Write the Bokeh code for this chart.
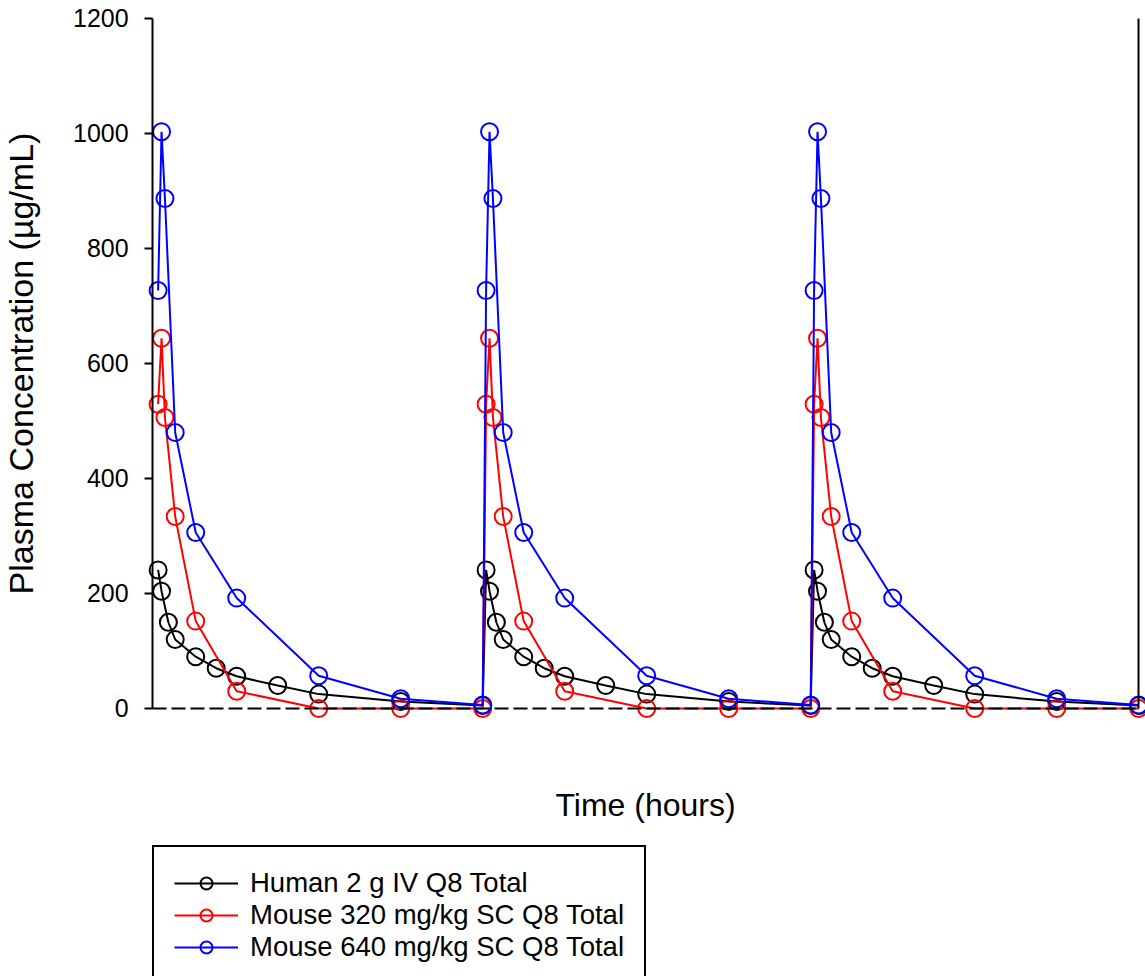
from bokeh.plotting import figure
from bokeh.models import Range1d, LinearAxis, FixedTicker, Legend, LegendItem
from bokeh.embed import file_html
from bokeh.resources import INLINE

# ---- data ----
human_t = [0.083, 0.167, 0.333, 0.5, 1, 1.5, 2, 3, 4, 6, 8,
           8.083, 8.167, 8.333, 8.5, 9, 9.5, 10, 11, 12, 14, 16,
           16.083, 16.167, 16.333, 16.5, 17, 17.5, 18, 19, 20, 22, 24]
human_c = [241, 204, 150, 120, 90, 70, 56, 40, 25, 12, 5,
           241, 204, 150, 120, 90, 70, 56, 40, 25, 12, 5,
           241, 204, 150, 120, 90, 70, 56, 40, 25, 12, 5]

mouse_t = [0.083, 0.167, 0.25, 0.5, 1, 2, 4, 6, 8,
           8.083, 8.167, 8.25, 8.5, 9, 10, 12, 14, 16,
           16.083, 16.167, 16.25, 16.5, 17, 18, 20, 22, 24]
mouse320_c = [529, 644, 506, 334, 152, 30, 0, 0, 0,
              529, 644, 506, 334, 152, 30, 0, 0, 0,
              529, 644, 506, 334, 152, 30, 0, 0, 0]
mouse640_c = [727, 1003, 887, 480, 306, 192, 57, 17, 6,
              727, 1003, 887, 480, 306, 192, 57, 17, 6,
              727, 1003, 887, 480, 306, 192, 57, 17, 6]

y_ticks = [0, 200, 400, 600, 800, 1000, 1200]
labels = ["Human 2 g IV Q8 Total", "Mouse 320 mg/kg SC Q8 Total", "Mouse 640 mg/kg SC Q8 Total"]
colors = ["black", "#ff0000", "#0000ff"]

FONT = "Liberation Sans"

# the frame covers the whole canvas; axes are drawn at fixed data locations
p = figure(width=1145, height=976, output_backend="svg", toolbar_location=None,
           x_range=Range1d(-3.761, 24.166), y_range=Range1d(-466.1, 1231.3),
           x_axis_location=None, y_axis_location=None,
           min_border_left=0, min_border_right=0, min_border_top=0, min_border_bottom=0)
p.outline_line_color = None
p.grid.grid_line_color = None
p.background_fill_color = "white"
p.border_fill_color = "white"

yaxis = LinearAxis(ticker=FixedTicker(ticks=y_ticks), fixed_location=-0.05, bounds=(0, 1200),
                   axis_line_width=2, axis_line_color="black",
                   major_tick_out=8, major_tick_in=0, major_tick_line_width=2,
                   minor_tick_out=0, minor_tick_in=0,
                   major_label_standoff=16, major_label_text_font=FONT,
                   major_label_text_font_size="25px", major_label_text_color="black",
                   axis_label="Plasma Concentration (µg/mL)", axis_label_standoff=30,
                   axis_label_text_font=FONT, axis_label_text_font_size="34px",
                   axis_label_text_font_style="normal", axis_label_text_color="black")
p.add_layout(yaxis, "left")

xaxis = LinearAxis(ticker=FixedTicker(ticks=[]), fixed_location=0, bounds=(-0.05, 24),
                   axis_line_width=2, axis_line_color="black", axis_line_dash="14 5",
                   major_tick_out=0, major_tick_in=0, minor_tick_out=0, minor_tick_in=0,
                   major_label_standoff=0,
                   axis_label="Time (hours)", axis_label_standoff=78,
                   axis_label_text_font=FONT, axis_label_text_font_size="32px",
                   axis_label_text_font_style="normal", axis_label_text_color="black")
p.add_layout(xaxis, "below")

raxis = LinearAxis(ticker=FixedTicker(ticks=[]), fixed_location=24, bounds=(0, 1200),
                   axis_line_width=2, axis_line_color="black",
                   major_tick_out=0, major_tick_in=0, minor_tick_out=0, minor_tick_in=0,
                   major_label_text_font_size="0px")
p.add_layout(raxis, "right")

items = []
for t, c, lab, col in [(human_t, human_c, labels[0], colors[0]),
                       (mouse_t, mouse320_c, labels[1], colors[1]),
                       (mouse_t, mouse640_c, labels[2], colors[2])]:
    lr = p.line(t, c, line_color=col, line_width=2)
    sr = p.scatter(t, c, marker="circle", size=17, fill_color=None, line_color=col, line_width=2)
    items.append(LegendItem(label=lab, renderers=[lr, sr]))

legend = Legend(items=items, location=(152, -9), orientation="vertical",
                padding=20, spacing=0, margin=0, glyph_width=64, glyph_height=30,
                label_height=30, label_standoff=12, label_text_font=FONT,
                label_text_font_size="27.5px", label_text_color="black",
                border_line_color="black", border_line_width=2, border_line_alpha=1.0,
                background_fill_color="white", background_fill_alpha=1.0)
p.add_layout(legend, "center")

open("out.html", "w").write(file_html(p, INLINE))
